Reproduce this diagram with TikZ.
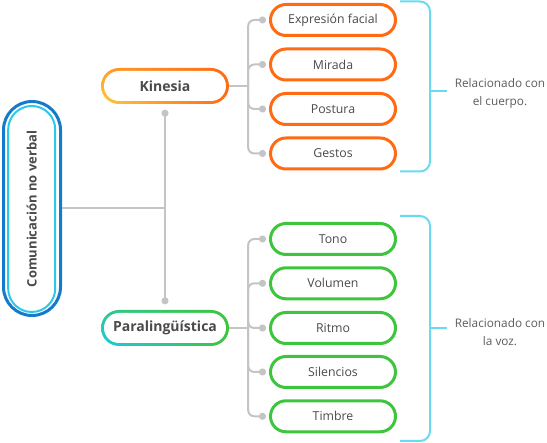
\documentclass[tikz,border=0pt]{standalone}
\usepackage{fontspec}
\setmainfont{Open Sans}
\usetikzlibrary{positioning, arrows.meta, shadings}

\definecolor{txtgray}{HTML}{4A4A4A}
\definecolor{notegray}{HTML}{5C5C5C}
\definecolor{linkgray}{HTML}{C4C4C4}
\definecolor{bluedeep}{HTML}{1679C9}
\definecolor{bluelight}{HTML}{2CC8EA}
\definecolor{kinA}{HTML}{FF9C28}
\definecolor{kinB}{HTML}{FFC83A}
\definecolor{kinC}{HTML}{FF6A13}
\definecolor{paraA}{HTML}{30C88C}
\definecolor{paraB}{HTML}{1EC8E6}
\definecolor{paraC}{HTML}{3DC53D}
\definecolor{bracecyan}{HTML}{68DAF2}

\begin{document}
\begin{tikzpicture}[x=1pt, y=-1pt,
            mainbox/.style = {rectangle, draw=bluedeep, line width=3pt, rounded corners=28.5pt, minimum width=57pt, minimum height=214pt, inner sep=0pt},
            corebox/.style = {rectangle, draw=bluelight, line width=2pt, rounded corners=23.5pt, minimum width=206pt, minimum height=47pt, inner sep=0pt, rotate=90, font=\fontsize{13}{15}\selectfont\bfseries, text=txtgray},
            topic/.style = {rectangle, rounded corners=18pt, minimum width=128pt, minimum height=36pt, inner sep=0pt, font=\fontsize{14}{16}\selectfont\bfseries, text=txtgray},
            ring/.style n args = {3}{path picture={
                \shade[upper left=#1, lower left=#2, upper right=#3, lower right=#3]
                    (path picture bounding box.south west) rectangle (path picture bounding box.north east);
                \fill[white, rounded corners=15pt]
                    ([shift={(3pt,3pt)}]path picture bounding box.south west) rectangle ([shift={(-3pt,-3pt)}]path picture bounding box.north east);}},
            leaf/.style = {rectangle, draw, fill=white, line width=3pt, rounded corners=15.5pt, minimum width=125pt, minimum height=31pt, inner sep=0pt, font=\fontsize{12.3}{14}\selectfont, text=txtgray},
            link/.style = {draw=linkgray, line width=2pt},
            twig/.style = {link, rounded corners=6pt, -{Circle[length=7pt]}},
            brace/.style = {draw=bracecyan, line width=2pt},
            note/.style = {align=center, font=\fontsize{11.8}{18}\selectfont, text=notegray},
        ]
            \useasboundingbox (0,0) rectangle (547,443);

            % Root on the left
            \node[mainbox] (main) at (32,208.5) {};
            \node[corebox] (core) at (31.7,209) {Comunicación no verbal};

            % Two topics on the trunk
            \node[topic, ring={kinA}{kinB}{kinC}] (kin) at (165,86) {Kinesia};
            \node[topic, ring={paraA}{paraB}{paraC}] (para) at (165,328) {Paralingüística};

            % Leaves of Kinesia
            \node[leaf, draw=kinC] (expr) at (333,20) {Expresión facial};
            \node[leaf, draw=kinC] (mirada) at (333,64.5) {Mirada};
            \node[leaf, draw=kinC] (postura) at (333,109) {Postura};
            \node[leaf, draw=kinC] (gestos) at (333,153.5) {Gestos};

            % Leaves of Paralingüística
            \node[leaf, draw=paraC] (tono) at (333,239) {Tono};
            \node[leaf, draw=paraC] (volumen) at (333,283.3) {Volumen};
            \node[leaf, draw=paraC] (ritmo) at (333,328) {Ritmo};
            \node[leaf, draw=paraC] (silencios) at (333,372) {Silencios};
            \node[leaf, draw=paraC] (timbre) at (333,416.3) {Timbre};

            % Trunk: root -> topics
            \draw[link] (main.east) -- (main.east -| kin.south);
            \draw[link, {Circle[length=7pt]}-{Circle[length=7pt]}] ([yshift=-5.5pt]kin.south) -- ([yshift=5.5pt]para.north);

            % Kinesia -> leaves
            \draw[link] (kin.east) -- ++(19,0) coordinate (kfork);
            \draw[twig] (kfork) |- ([xshift=-3pt]expr.west);
            \draw[twig] (kfork) |- ([xshift=-3pt]mirada.west);
            \draw[twig] (kfork) |- ([xshift=-3pt]postura.west);
            \draw[twig] (kfork) |- ([xshift=-3pt]gestos.west);

            % Paralingüística -> leaves
            \draw[link] (para.east) -- ++(19,0) coordinate (pfork);
            \draw[twig] (pfork) |- ([xshift=-3pt]tono.west);
            \draw[twig] (pfork) |- ([xshift=-3pt]volumen.west);
            \draw[twig] (pfork) |- ([xshift=-3pt]ritmo.west);
            \draw[twig] (pfork) |- ([xshift=-3pt]silencios.west);
            \draw[twig] (pfork) |- ([xshift=-3pt]timbre.west);

            % Brackets and their notes
            \draw[brace, rounded corners=10pt] (400,1.5) -- (430,1.5) -- (430,171.5) -- (400,171.5);
            \coordinate (kbrace) at (430,91);
            \draw[brace] (kbrace) -- ++(17,0);
            \node[note] (kinnote) at (500,93) {Relacionado con\\el cuerpo.};

            \draw[brace, rounded corners=10pt] (400,216) -- (430,216) -- (430,441) -- (400,441);
            \coordinate (pbrace) at (430,328);
            \draw[brace] (pbrace) -- ++(17,0);
            \node[note] (paranote) at (500,332) {Relacionado con\\la voz.};
        \end{tikzpicture}
\end{document}
